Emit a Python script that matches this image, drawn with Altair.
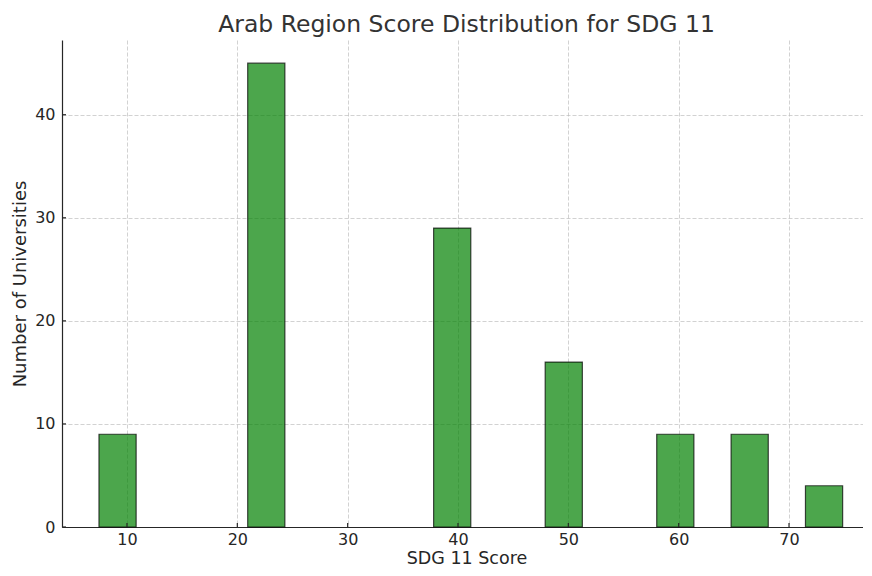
import altair as alt
import pandas as pd

# Histogram bins
bin_start = [7.46, 20.94, 37.79, 47.90, 58.01, 64.75, 71.49]
bin_end = [10.83, 24.31, 41.16, 51.27, 61.38, 68.12, 74.86]
counts = [9, 45, 29, 16, 9, 9, 4]

x_ticks = [10, 20, 30, 40, 50, 60, 70]
y_ticks = [0, 10, 20, 30, 40]

df = pd.DataFrame({"start": bin_start, "end": bin_end, "count": counts})
xt = pd.DataFrame({"v": x_ticks})
yt = pd.DataFrame({"v": y_ticks})

FONT = "DejaVu Sans"
W, H = 809, 487
DARK = "#262626"

xscale = alt.Scale(domain=[4.11, 77.43], nice=False, zero=False)
yscale = alt.Scale(domain=[0, 47.25], nice=False)
xaxis = alt.Axis(values=x_ticks, title="SDG 11 Score", tickSize=0, titleFontSize=17.5,
                 labelPadding=4, titleY=36.5, titleBaseline="alphabetic", format="d")
yaxis = alt.Axis(values=y_ticks, title="Number of Universities", tickSize=0,
                 labelPadding=7, titleX=-37, titleBaseline="alphabetic", format="d")

bars = alt.Chart(df).mark_rect(
    fill="#008000", fillOpacity=0.7, stroke="black", strokeOpacity=0.7, strokeWidth=1.2
).encode(
    x=alt.X("start:Q", scale=xscale, axis=xaxis),
    x2="end:Q",
    y=alt.Y("count:Q", scale=yscale, axis=yaxis),
    y2=alt.datum(0),
)

xticks = alt.Chart(xt).mark_rule(color=DARK, strokeWidth=1.2).encode(
    x=alt.X("v:Q", scale=xscale, axis=xaxis),
    y=alt.value(H),
    y2=alt.value(H - 4),
)

yticks = alt.Chart(yt).mark_rule(color=DARK, strokeWidth=1.2).encode(
    y=alt.Y("v:Q", scale=yscale, axis=yaxis),
    x=alt.value(0),
    x2=alt.value(4),
)

chart = alt.layer(bars, xticks, yticks).properties(
    width=W,
    height=H,
    title=alt.TitleParams("Arab Region Score Distribution for SDG 11", fontSize=23.5,
                          font=FONT, fontWeight="normal", color="#333333",
                          anchor="middle", offset=4),
    autosize=alt.AutoSizeParams(type="none"),
    padding={"left": 54, "top": 32, "right": -8, "bottom": 41},
).configure_view(
    stroke=None
).configure_axis(
    labelFont=FONT, titleFont=FONT, labelFontSize=16, titleFontSize=18,
    labelColor=DARK, titleColor=DARK, titleFontWeight="normal",
    domainColor=DARK, domainWidth=1.2,
    grid=True, gridColor="#b8b8b8", gridDash=[4, 2], gridWidth=0.8, gridOpacity=0.8,
)

chart.save("out.html", embed_options={"renderer": "svg", "actions": False})
